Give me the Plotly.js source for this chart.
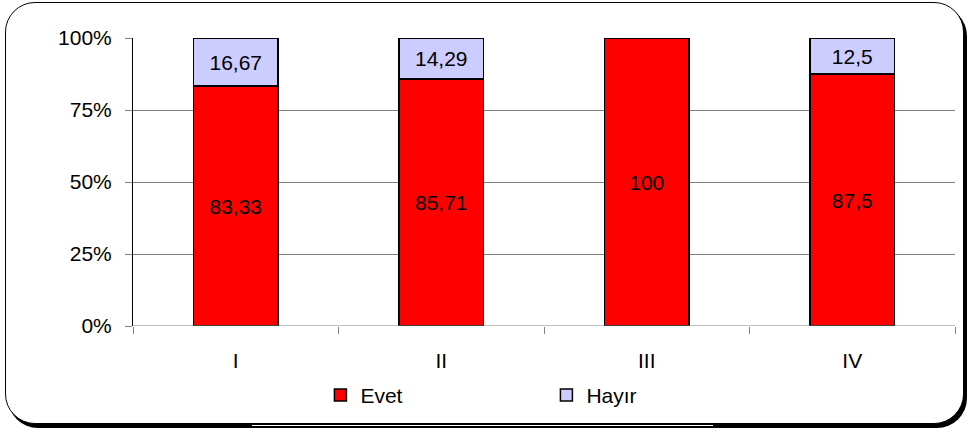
<!DOCTYPE html>
<html>
<head>
<meta charset="utf-8">
<script src="https://cdn.plot.ly/plotly-3.0.1.min.js"></script>
<style>
  html, body { margin: 0; padding: 0; background: #fff; }
  #wrap { position: relative; width: 969px; height: 432px; overflow: hidden; }
  #frame { position: absolute; left: 5px; top: 2px; width: 957px; height: 420px;
           border: 1.3px solid #000; border-radius: 30px; box-shadow: 3px 4px 0 #000; background: #fff; }
  #glitch { position: absolute; left: 252px; top: 425px; width: 461px; height: 1px; background: #fff; }
  #chart { position: absolute; left: 0; top: 0; width: 969px; height: 432px; }
</style>
</head>
<body>
<div id="wrap">
  <div id="frame"></div>
  <div id="glitch"></div>
  <div id="chart"></div>
</div>
<script>
const categories = ['I', 'II', 'III', 'IV'];
const evet = [83.33, 85.71, 100, 87.5];
const hayir = [16.67, 14.29, null, 12.5];
const yTicks = [0, 25, 50, 75, 100];
const yTickLabels = ['0%', '25%', '50%', '75%', '100%'];

const fmt = v => (v === null ? '' : String(v).replace('.', ','));

const font = { family: 'Liberation Sans, Arial, sans-serif', size: 21, color: '#000' };

const traces = [
  {
    type: 'bar', name: 'Evet', x: categories, y: evet,
    text: evet.map(fmt), textposition: 'inside', insidetextanchor: 'middle',
    textangle: 0, constraintext: 'none', textfont: font,
    marker: { color: '#FF0000', line: { color: '#000', width: 1.5 } },
    hoverinfo: 'none'
  },
  {
    type: 'bar', name: 'Hayır', x: categories, y: hayir,
    text: hayir.map(fmt), textposition: 'inside', insidetextanchor: 'middle',
    textangle: 0, constraintext: 'none', textfont: font,
    marker: { color: '#CCCCFF', line: { color: '#000', width: 1.5 } },
    hoverinfo: 'none'
  }
];

const layout = {
  width: 969, height: 432,
  paper_bgcolor: 'rgba(0,0,0,0)', plot_bgcolor: 'rgba(0,0,0,0)',
  margin: { l: 133, r: 14, t: 38, b: 106 },
  barmode: 'stack', bargap: 0.59,
  font: font,
  showlegend: true,
  legend: {
    orientation: 'h', x: 0.228, xanchor: 'left', y: -0.17, yanchor: 'top',
    font: font, entrywidth: 181, entrywidthmode: 'pixels', traceorder: 'normal',
    bgcolor: 'rgba(0,0,0,0)'
  },
  xaxis: {
    type: 'category', tickson: 'boundaries', ticks: 'outside', ticklen: 7,
    tickcolor: '#808080', tickwidth: 1, showline: false, showgrid: false,
    ticklabelstandoff: 20, tickfont: font, zeroline: false
  },
  yaxis: {
    range: [0, 100], tickvals: yTicks, ticktext: yTickLabels,
    ticks: 'outside', ticklen: 7, tickcolor: '#808080', tickwidth: 1,
    showgrid: true, gridcolor: '#808080', gridwidth: 1,
    showline: true, linecolor: '#000', linewidth: 1, zeroline: false,
    ticklabelstandoff: 9, tickfont: font
  },
  shapes: [
    { type: 'line', xref: 'paper', yref: 'y', x0: 0, x1: 1, y0: 0, y1: 0,
      line: { color: '#808080', width: 1 } }
  ]
};

Plotly.newPlot('chart', traces, layout, { staticPlot: true, displayModeBar: false });
</script>
</body>
</html>
